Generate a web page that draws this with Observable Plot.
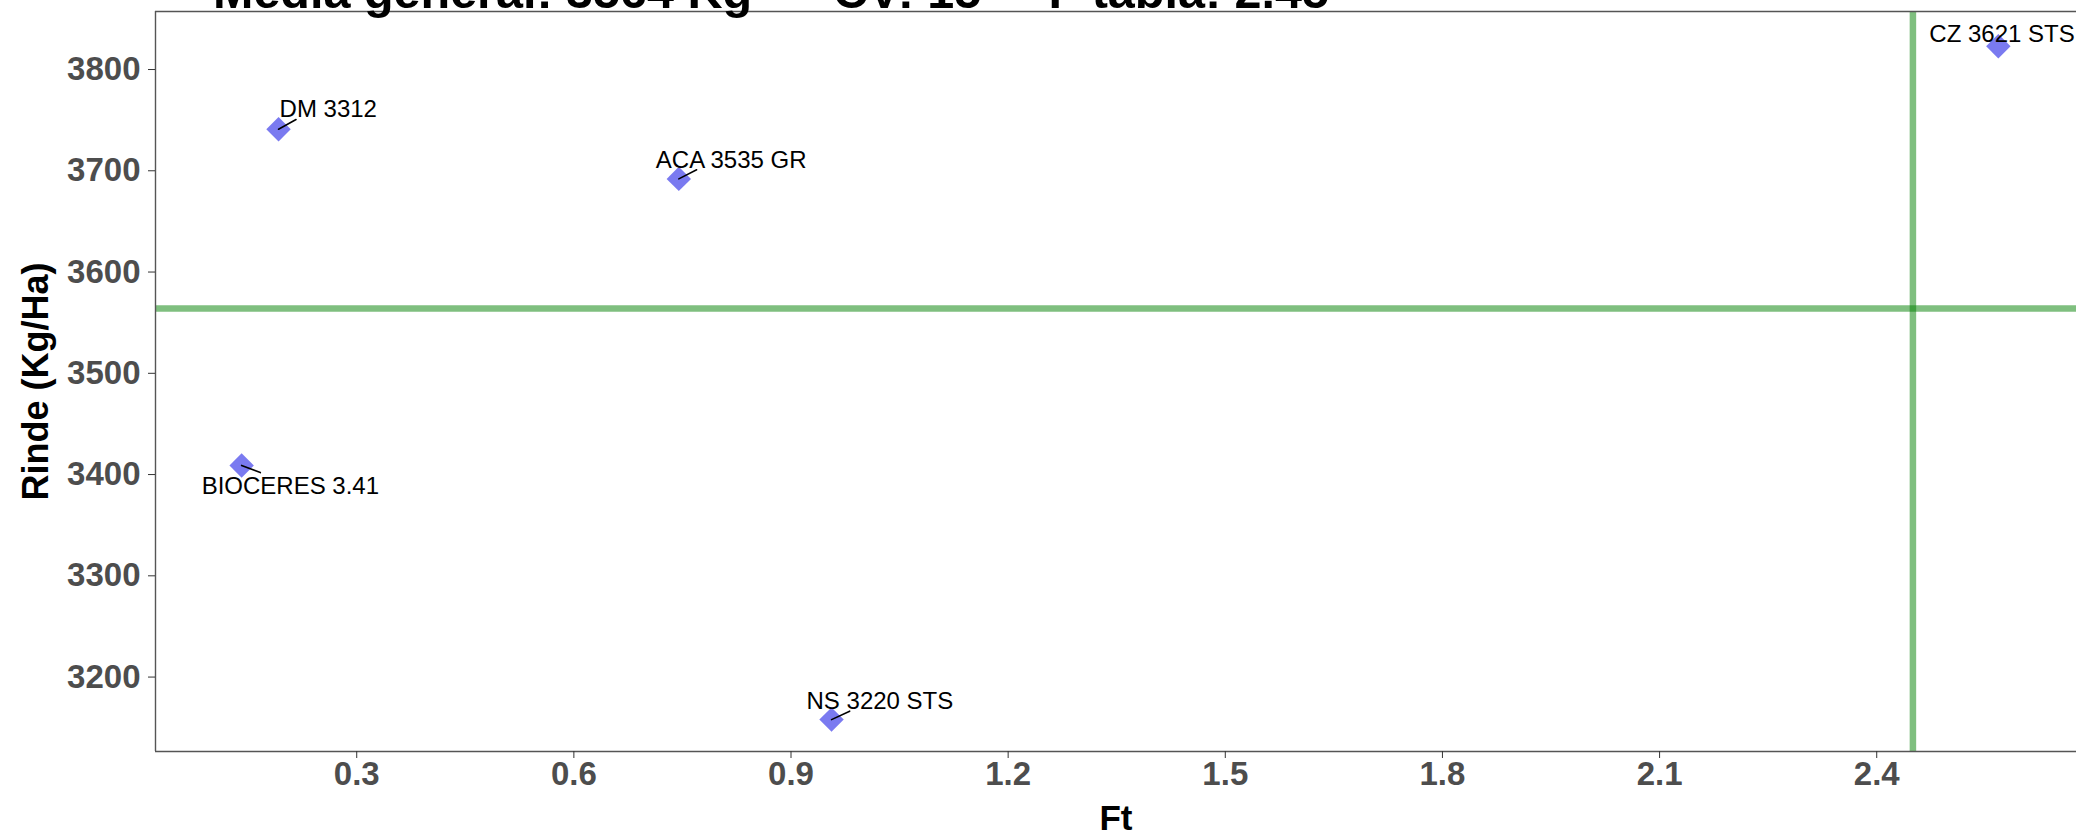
<!DOCTYPE html>
<html>
<head>
<meta charset="utf-8">
<script src="https://cdn.jsdelivr.net/npm/d3@7"></script>
<script src="https://cdn.jsdelivr.net/npm/@observablehq/plot@0.6"></script>
<style>
  html, body { margin: 0; padding: 0; background: #fff; overflow: hidden; }
  #wrap { position: relative; width: 2076px; height: 837px; }
  #chart { position: absolute; left: 0; top: 0; }
  #title { position: absolute; left: 213px; top: -33px; z-index: 2;
    font: bold 48.5px "Liberation Sans", Arial, sans-serif; line-height: 48px;
    white-space: pre; color: #000; }
</style>
</head>
<body>
<div id="wrap"><div id="chart"></div><div id="title"></div></div>
<script>
// ---- data ----
const cultivars   = ["DM 3312", "ACA 3535 GR", "BIOCERES 3.41", "NS 3220 STS", "CZ 3621 STS"];
const ftValues    = [0.192, 0.745, 0.141, 0.956, 2.568];
const rindeValues = [3741, 3692, 3409, 3158, 3823];
const mediaGeneral = 3564;
const cvValue = 15;
const fTabla = 2.45;
const xTicks = [0.3, 0.6, 0.9, 1.2, 1.5, 1.8, 2.1, 2.4];
const yTicks = [3200, 3300, 3400, 3500, 3600, 3700, 3800];
const xLabel = "Ft";
const yLabel = "Rinde (Kg/Ha)";

// ---- layout (label placement, like ggrepel) ----
const xDomain = [0.022, 2.676];
const yDomain = [3126.5, 3857.3];
const labelOffsets = [[1, -12], [-23, -11], [-40, 29], [-25, -11], [-69, -4]];
const segmentAngles = [61, 63, 111, 65, null];

document.getElementById("title").textContent =
  `Media general: ${mediaGeneral} Kg      CV: ${cvValue}     F tabla: ${fTabla}`;

const data = cultivars.map((name, i) => ({name, ft: ftValues[i], rinde: rindeValues[i], i}));
const font = '"Liberation Sans", Arial, sans-serif';

const labelMarks = data.map((d, i) => Plot.text([d], {
  x: "ft", y: "rinde", text: "name",
  dx: labelOffsets[i][0], dy: labelOffsets[i][1],
  textAnchor: "start", lineAnchor: "bottom",
  fontSize: 24, fill: "#000"
}));

const segShape = { draw(context, l) { context.moveTo(0, 0); context.lineTo(0, -l); } };

const chart = Plot.plot({
  width: 2076, height: 837,
  marginLeft: 155, marginRight: 0, marginTop: 11, marginBottom: 86,
  style: {fontFamily: font, background: "transparent", overflow: "visible"},
  x: {domain: xDomain},
  y: {domain: yDomain},
  marks: [
    Plot.ruleY([mediaGeneral], {stroke: "#008000", strokeOpacity: 0.5, strokeWidth: 6.5}),
    Plot.ruleX([fTabla], {stroke: "#008000", strokeOpacity: 0.5, strokeWidth: 6.5}),
    Plot.ruleY(yDomain, {stroke: "#555", strokeWidth: 1.4}),
    Plot.ruleX([xDomain[0]], {stroke: "#555", strokeWidth: 1.4}),
    Plot.axisX({ticks: xTicks, tickSize: 7, tickPadding: 3, fontSize: 33, fontWeight: "bold",
      fill: "#4D4D4D", stroke: "#333", label: null, tickFormat: d => d.toFixed(1)}),
    Plot.axisY({ticks: yTicks, tickSize: 7, tickPadding: 8, fontSize: 33, fontWeight: "bold",
      fill: "#4D4D4D", stroke: "#333", label: null, tickFormat: d => String(d)}),
    Plot.text([xLabel], {frameAnchor: "bottom", dy: 67, lineAnchor: "middle", textAnchor: "middle",
      fontSize: 35, fontWeight: "bold", fill: "#000"}),
    Plot.text([yLabel], {frameAnchor: "left", dx: -119, rotate: -90, textAnchor: "middle", lineAnchor: "middle",
      fontSize: 36, fontWeight: "bold", fill: "#000"}),
    Plot.dot(data, {x: "ft", y: "rinde", symbol: "diamond2", r: 11, fill: "#7A7AF0", stroke: "none"}),
    Plot.vector(data.filter((d, i) => segmentAngles[i] != null), {
      x: "ft", y: "rinde", rotate: d => segmentAngles[d.i], length: 20, anchor: "start",
      shape: segShape, stroke: "#000", strokeWidth: 1.6
    }),
    ...labelMarks
  ]
});
document.getElementById("chart").appendChild(chart);
</script>
</body>
</html>
